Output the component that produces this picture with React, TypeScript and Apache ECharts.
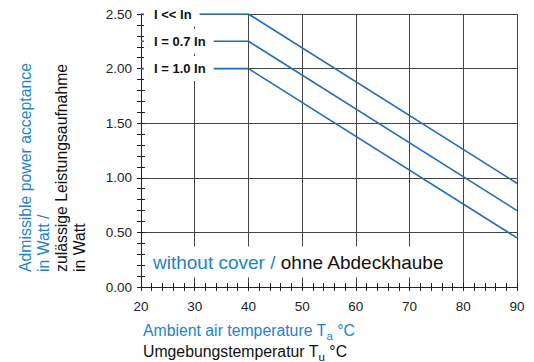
import React, { useEffect, useRef } from "react";
import * as echarts from "echarts";

// Ambient temperature break points (°C)
const temperatures = [20, 40, 90];
// Admissible power acceptance (W) per curve
const seriesNames = ["I << In", "I = 0.7 In", "I = 1.0 In"];
const powerLow = [2.5, 2.5, 0.95];
const power07 = [2.25, 2.25, 0.7];
const power10 = [2.0, 2.0, 0.45];
const seriesValues = [powerLow, power07, power10];

const BLUE_LINE = "#1f6db8";
const BLUE_TEXT = "#2183c8";
const BLACK = "#111";
const GRID = "#444";
const FONT = "Liberation Sans";

export default function App() {
  const ref = useRef<HTMLDivElement>(null);

  useEffect(() => {
    if (!ref.current) return;
    const chart = echarts.init(ref.current, undefined, { renderer: "svg" });

    const series = seriesValues.map((vals, i) => ({
      name: seriesNames[i],
      type: "line",
      data: temperatures.map((t, k) => [t, vals[k]]),
      showSymbol: false,
      symbol: "none",
      lineStyle: { color: BLUE_LINE, width: 1.6 },
      z: 3,
      markPoint: {
        symbol: "circle",
        symbolSize: 0,
        silent: true,
        data: [
          {
            coord: [temperatures[0], vals[0]],
            label: {
              show: true,
              position: "right",
              distance: 3,
              formatter: seriesNames[i],
              color: BLACK,
              fontFamily: FONT,
              fontSize: 13,
              fontWeight: "bold",
              lineHeight: 15,
              backgroundColor: "#fff",
              padding: [5, 8, 5, 10],
            },
          },
        ],
      },
    }));

    const baseY = {
      type: "value",
      min: 0,
      max: 2.5,
      interval: 0.5,
    };
    const baseX = {
      type: "value",
      min: 20,
      max: 90,
      interval: 10,
    };

    chart.setOption({
      animation: false,
      textStyle: { fontFamily: FONT },
      grid: { left: 141, right: 17, top: 14, bottom: 75 },
      xAxis: [
        {
          ...baseX,
          position: "bottom",
          axisLine: { show: true, lineStyle: { color: "#222", width: 1 } },
          axisTick: { show: true, length: 4, lineStyle: { color: "#222" } },
          minorTick: { show: true, splitNumber: 5, length: 4, lineStyle: { color: "#222" } },
          axisLabel: { color: "#222", fontSize: 13.5, margin: 12, fontFamily: FONT },
          splitLine: { show: true, lineStyle: { color: GRID, width: 1 } },
        },
        {
          ...baseX,
          position: "bottom",
          offset: 0,
          axisLine: { show: false },
          axisTick: { show: true, inside: true, length: 4, lineStyle: { color: "#222" } },
          minorTick: { show: true, splitNumber: 5, length: 4, lineStyle: { color: "#222" } },
          axisLabel: { show: false },
          splitLine: { show: false },
        },
      ],
      yAxis: [
        {
          ...baseY,
          position: "left",
          axisLine: { show: true, lineStyle: { color: "#222", width: 1 } },
          axisTick: { show: true, length: 4, lineStyle: { color: "#222" } },
          minorTick: { show: true, splitNumber: 5, length: 4, lineStyle: { color: "#222" } },
          axisLabel: {
            color: "#222",
            fontSize: 13.5,
            margin: 9,
            fontFamily: FONT,
            formatter: (v: number) => v.toFixed(2),
          },
          splitLine: { show: true, lineStyle: { color: GRID, width: 1 } },
        },
        {
          ...baseY,
          position: "left",
          offset: 0,
          axisLine: { show: false },
          axisTick: { show: true, inside: true, length: 4, lineStyle: { color: "#222" } },
          minorTick: { show: true, splitNumber: 5, length: 4, lineStyle: { color: "#222" } },
          axisLabel: { show: false },
          splitLine: { show: false },
        },
      ],
      series,
      graphic: [
        {
          type: "text",
          x: 16,
          y: 272,
          rotation: Math.PI / 2,
          z: 10,
          style: {
            text:
              "{b|Admissible power acceptance}\n{b|in Watt /}\n{k|zulässige Leistungsaufnahme}\n{k|in Watt}",
            align: "left",
            verticalAlign: "top",
            rich: {
              b: { fill: BLUE_TEXT, fontSize: 15.8, lineHeight: 18, fontFamily: FONT },
              k: { fill: BLACK, fontSize: 15.8, lineHeight: 18, fontFamily: FONT },
            },
          },
        },
        {
          type: "text",
          x: 143,
          y: 320,
          z: 10,
          style: {
            text:
              "{b|Ambient air temperature T}{bs|a}{b| °C}\n{k|Umgebungstemperatur T}{ks|u}{k| °C}",
            align: "left",
            verticalAlign: "top",
            rich: {
              b: { fill: BLUE_TEXT, fontSize: 15.8, lineHeight: 21, fontFamily: FONT },
              bs: { fill: BLUE_TEXT, fontSize: 11.5, lineHeight: 11, padding: [10, 0, 0, 0], fontFamily: FONT },
              k: { fill: BLACK, fontSize: 15.8, lineHeight: 21, fontFamily: FONT },
              ks: { fill: BLACK, fontSize: 11.5, lineHeight: 11, padding: [10, 0, 0, 0], fontFamily: FONT },
            },
          },
        },
        {
          type: "text",
          x: 149,
          y: 262,
          z: 10,
          style: {
            text: "{b|without cover / }{k|ohne Abdeckhaube}",
            align: "left",
            verticalAlign: "middle",
            backgroundColor: "#fff",
            padding: [6, 4, 6, 4],
            rich: {
              b: { fill: BLUE_TEXT, fontSize: 19, fontFamily: FONT },
              k: { fill: BLACK, fontSize: 19, fontFamily: FONT },
            },
          },
        },
      ],
    });

    return () => chart.dispose();
  }, []);

  return <div ref={ref} style={{ width: 534, height: 362, position: "absolute", left: 0, top: 0 }} />;
}
